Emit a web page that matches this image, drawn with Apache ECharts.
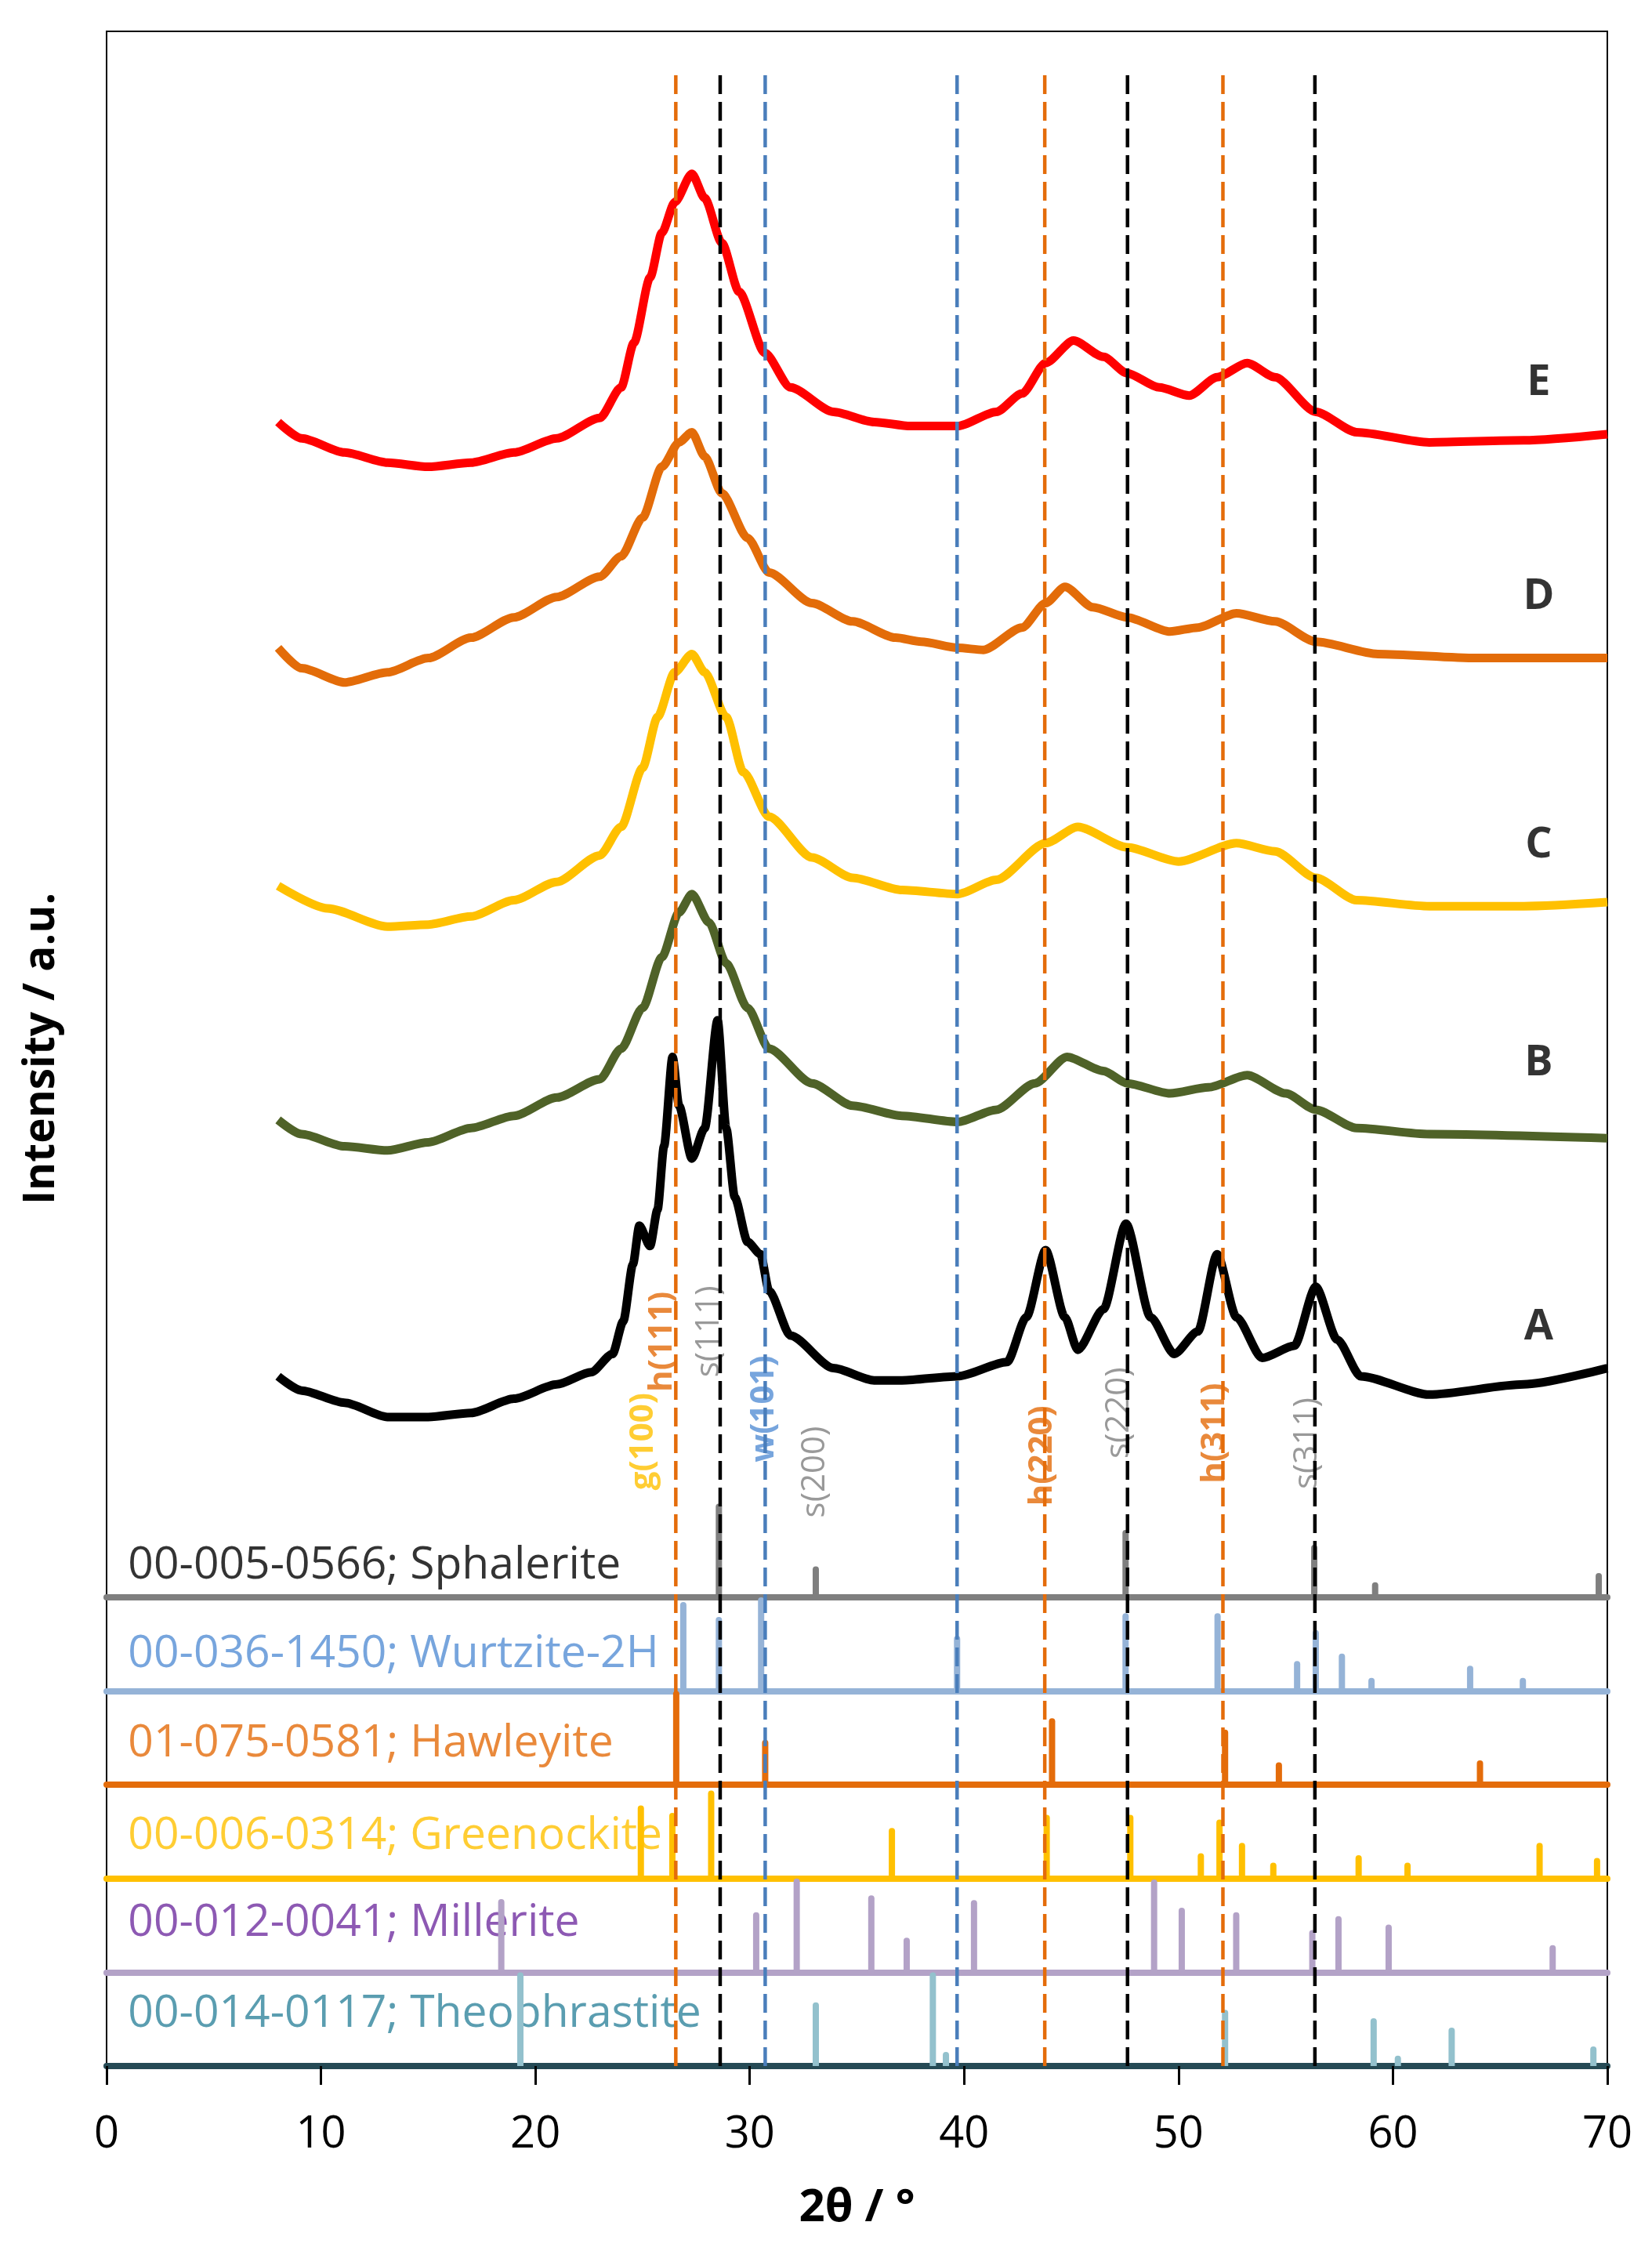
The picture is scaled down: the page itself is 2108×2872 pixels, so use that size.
<!DOCTYPE html>
<html>
<head>
<meta charset="utf-8">
<script src="https://cdn.jsdelivr.net/npm/echarts@6/dist/echarts.min.js"></script>
<style>
  html, body { margin: 0; padding: 0; background: #fff; }
  #chart { width: 2108px; height: 2872px; }
</style>
</head>
<body>
<div id="chart"></div>
<script>
// XRD patterns (2θ, intensity a.u. with vertical offset)
const patternNames = ['E', 'D', 'C', 'B', 'A'];
const patternColors = ['#ff0000', '#e36c09', '#ffc000', '#4f6228', '#000000'];
const patternE = [[8.0,808],[9.1,800],[11.1,793],[13.1,788],[15.0,786],[17.0,788],[19.0,793],[21.0,800],[23.0,810],[24.0,825],[24.6,847],[25.35,879],[25.9,901],[26.5,916],[27.3,930],[27.9,918],[28.7,896],[29.5,872],[30.7,842],[31.9,825],[33.9,813],[35.8,808],[37.5,806],[39.7,806],[41.5,813],[42.7,822],[43.8,837],[45.1,848],[46.5,840],[47.6,832],[49.1,825],[50.5,821],[51.8,830],[53.2,837],[54.5,830],[56.4,813],[58.3,803],[61.7,798],[66.1,799],[70,802]];
const patternD = [[8.0,697],[9.1,687],[11.1,680],[13.1,685],[15.0,692],[17.0,702],[19.0,712],[21.0,722],[23.0,732],[24.0,742],[25.0,761],[25.9,786],[26.7,798],[27.3,803],[27.9,791],[28.7,773],[29.9,751],[30.9,734],[32.9,719],[34.8,710],[36.8,702],[38.0,700],[39.7,697],[40.9,696],[42.7,707],[43.8,719],[44.7,727],[46.0,717],[47.6,712],[49.6,705],[50.9,707],[52.7,714],[54.5,710],[56.4,700],[59.3,694],[63.9,692],[70,692]];
const patternC = [[8.0,580],[10.3,569],[13.1,560],[15.0,561],[17.0,565],[19.0,573],[21.0,582],[23.0,595],[24.0,609],[25.0,638],[25.7,663],[26.5,685],[27.3,694],[27.9,685],[28.9,663],[29.7,636],[30.9,614],[32.9,594],[34.8,584],[37.1,578],[39.7,576],[41.5,583],[43.8,601],[45.3,609],[47.6,599],[50.0,592],[52.7,601],[54.5,597],[56.4,584],[58.3,573],[61.7,570],[66.1,570],[70,572]];
const patternB = [[8.0,465],[9.1,458],[11.1,452],[13.1,450],[15.0,454],[17.0,461],[19.0,467],[21.0,476],[23.0,485],[24.0,500],[25.0,520],[25.9,545],[26.7,567],[27.3,576],[28.1,562],[28.9,542],[29.9,520],[30.9,500],[32.9,483],[34.8,472],[37.1,467],[39.7,464],[41.5,470],[43.3,483],[44.8,496],[46.5,489],[47.6,483],[49.6,478],[51.4,481],[53.2,487],[55.0,478],[56.4,470],[58.3,461],[61.7,458],[70,456]];
const patternA = [[8.0,339],[9.1,332],[11.1,326],[13.1,319],[15.0,319],[17.0,321],[19.0,328],[21.0,335],[22.6,341],[23.6,350],[24.1,366],[24.55,394],[24.85,413],[25.35,403],[25.7,421],[26.0,452],[26.4,496],[26.7,472],[27.3,446],[27.9,461],[28.5,514],[28.9,461],[29.3,427],[29.9,405],[30.5,399],[30.9,381],[31.9,359],[33.9,343],[35.8,337],[37.1,337],[39.7,339],[42.0,346],[42.9,368],[43.8,401],[44.7,368],[45.3,352],[46.5,372],[47.55,414],[48.7,368],[49.8,350],[50.9,361],[51.8,399],[52.7,368],[53.9,348],[55.4,354],[56.4,383],[57.4,357],[58.5,339],[61.7,330],[66.1,335],[70,343]];
const patternLabelX = 66.8;
const patternLabelY = [827, 722, 600, 493, 363];

// dashed reflection markers
const dashX = [26.55, 28.62, 30.72, 39.67, 43.76, 47.62, 52.07, 56.36];
const dashColor = ['#e46c0a', '#000000', '#4a7ebb', '#4a7ebb', '#e46c0a', '#000000', '#e46c0a', '#000000'];
const dashTop = 980;

// reflection labels
const hklText = ['g(100)', 'h(111)', 's(111)', 'w(101)', 's(200)', 'h(220)', 's(220)', 'h(311)', 's(311)'];
const hklX = [25.03, 25.92, 28.1, 30.67, 33.05, 43.66, 47.24, 51.7, 56.0];
const hklY = [307, 356, 361, 323, 292, 300, 321, 311, 306];
const hklColor = ['#ffc000', '#e46c0a', '#7f7f7f', '#558ed5', '#7f7f7f', '#e46c0a', '#7f7f7f', '#e46c0a', '#7f7f7f'];

// reference cards (2θ, relative intensity %)
const refNames = ['00-005-0566; Sphalerite', '00-036-1450; Wurtzite-2H', '01-075-0581; Hawleyite',
                  '00-006-0314; Greenockite', '00-012-0041; Millerite', '00-014-0117; Theophrastite'];
const refStickColors = ['#7f7f7f', '#95b3d7', '#e46c0a', '#ffc000', '#b3a2c7', '#93c1cd'];
const refLineColors = ['#7f7f7f', '#95b3d7', '#e46c0a', '#ffc000', '#b3a2c7', '#254a55'];
const refTextColors = ['#000000', '#558ed5', '#e46c0a', '#ffc000', '#7030a0', '#31859c'];
const refLabelY = [34, 39, 44, 45, 52, 55];
const sphaleriteX = [28.56, 33.08, 47.53, 56.33, 59.17, 69.6];
const sphaleriteI = [100, 33, 72, 56, 16, 26];
const wurtziteX = [26.9, 28.56, 30.53, 39.67, 47.53, 51.82, 55.53, 56.4, 57.62, 59.0, 63.6, 66.06];
const wurtziteI = [95, 79, 100, 59, 83, 83, 32, 65, 40, 14, 27, 14];
const hawleyiteX = [26.57, 30.72, 44.1, 52.17, 54.68, 64.06];
const hawleyiteI = [100, 48, 71, 59, 24, 26];
const greenockiteX = [24.92, 26.39, 28.2, 36.63, 43.85, 47.75, 51.04, 51.91, 52.96, 54.42, 58.4, 60.68, 66.84, 69.52];
const greenockiteI = [78, 70, 94, 54, 68, 68, 27, 63, 38, 17, 25, 17, 38, 22];
const milleriteX = [18.41, 30.3, 32.19, 35.67, 37.32, 40.46, 48.86, 50.15, 52.69, 56.24, 57.46, 59.8, 67.45];
const milleriteI = [78, 64, 100, 82, 37, 77, 99, 69, 64, 45, 60, 51, 29];
const theophrastiteX = [19.3, 33.08, 38.54, 39.15, 52.17, 59.1, 60.23, 62.74, 69.35];
const theophrastiteI = [100, 68, 100, 15, 60, 51, 11, 41, 21];

const xTicks = [0, 10, 20, 30, 40, 50, 60, 70];

const patterns = [patternE, patternD, patternC, patternB, patternA];
const refX = [sphaleriteX, wurtziteX, hawleyiteX, greenockiteX, milleriteX, theophrastiteX];
const refI = [sphaleriteI, wurtziteI, hawleyiteI, greenockiteI, milleriteI, theophrastiteI];

const FONT = '"Open Sans", "Liberation Sans", sans-serif';
const plotLeft = 136, plotTop = 40, plotWidth = 1915, plotHeight = 2596;
const bandBottom0 = 2038, bandH = 119.6;

const chart = echarts.init(document.getElementById('chart'));

const grids = [{ left: plotLeft, top: plotTop, width: plotWidth, height: plotHeight,
                 show: true, borderColor: '#000', borderWidth: 2, backgroundColor: 'transparent' }];
const xAxes = [{
    gridIndex: 0, type: 'value', min: xTicks[0], max: xTicks[xTicks.length - 1], interval: 10,
    name: '2θ / °', nameLocation: 'middle', nameGap: 152,
    nameTextStyle: { fontFamily: FONT, fontSize: 58, fontWeight: 'bold', color: '#000' },
    axisLine: { show: true, onZero: false, lineStyle: { color: '#254a55', width: 4 } },
    axisTick: { show: true, inside: false, length: 24, lineStyle: { color: '#000', width: 3 } },
    axisLabel: { fontFamily: FONT, fontSize: 56, color: '#000', margin: 60 },
    splitLine: { show: false }
}];
const yAxes = [{
    gridIndex: 0, type: 'value', min: 0, max: 1000,
    name: 'Intensity / a.u.', nameLocation: 'middle', nameGap: 55,
    nameTextStyle: { fontFamily: FONT, fontSize: 55, fontWeight: 'bold', color: '#000' },
    axisLine: { show: true, lineStyle: { color: '#000', width: 2 } },
    axisTick: { show: false }, axisLabel: { show: false }, splitLine: { show: false }
}];

const series = [];

// reference bands, one small grid each
refNames.forEach((name, i) => {
    const g = i + 1;
    grids.push({ left: plotLeft, width: plotWidth, top: bandBottom0 + i * bandH - bandH, height: bandH });
    xAxes.push({
        gridIndex: g, type: 'value', min: 0, max: 70,
        axisLine: { show: true, onZero: false, lineStyle: { color: refLineColors[i], width: 8 } },
        axisTick: { show: false }, axisLabel: { show: false }, splitLine: { show: false }
    });
    yAxes.push({ gridIndex: g, type: 'value', min: 0, max: 100, show: false });
    series.push({
        type: 'scatter', xAxisIndex: g, yAxisIndex: g, z: 1, silent: true,
        symbolSize: 0, data: [[1.0, refLabelY[i]]],
        label: { show: true, position: 'right', distance: 0, formatter: name,
                 fontFamily: FONT, fontSize: 57, color: refTextColors[i] }
    });
    series.push({
        type: 'bar', xAxisIndex: g, yAxisIndex: g, z: 3, barWidth: 8,
        itemStyle: { color: refStickColors[i], borderRadius: [4, 4, 0, 0] },
        data: refX[i].map((x, k) => [x, refI[i][k]])
    });
});

// measured patterns
patterns.forEach((d, i) => {
    series.push({
        type: 'line', xAxisIndex: 0, yAxisIndex: 0, z: 2, data: d,
        showSymbol: false, smooth: 0.25, smoothMonotone: 'x',
        lineStyle: { color: patternColors[i], width: 11, join: 'round' }
    });
});

series.push({
    type: 'scatter', xAxisIndex: 0, yAxisIndex: 0, symbolSize: 0, z: 4,
    data: patternNames.map((n, i) => ({ value: [patternLabelX, patternLabelY[i]], name: n })),
    label: { show: true, position: 'inside', formatter: '{b}', fontFamily: FONT,
             fontSize: 54, fontWeight: 'bold', color: '#000' }
});

series.push({
    type: 'scatter', xAxisIndex: 0, yAxisIndex: 0, symbolSize: 0, z: 4,
    data: hklText.map((t, i) => ({
        value: [hklX[i], hklY[i]], name: t,
        label: { color: hklColor[i], fontWeight: hklColor[i] === '#7f7f7f' ? 'normal' : 'bold' }
    })),
    label: { show: true, position: 'inside', rotate: 90, formatter: '{b}',
             fontFamily: FONT, fontSize: 42 }
});

// dashed guide lines on top
dashX.forEach((x, i) => {
    series.push({
        type: 'line', xAxisIndex: 0, yAxisIndex: 0, z: 6, silent: true,
        showSymbol: false, data: [[x, 0], [x, dashTop]],
        lineStyle: { color: dashColor[i], width: 4.5, type: [24, 10] }
    });
});

chart.setOption({
    backgroundColor: '#fff',
    animation: false,
    grid: grids,
    xAxis: xAxes,
    yAxis: yAxes,
    series: series
});
</script>
</body>
</html>
